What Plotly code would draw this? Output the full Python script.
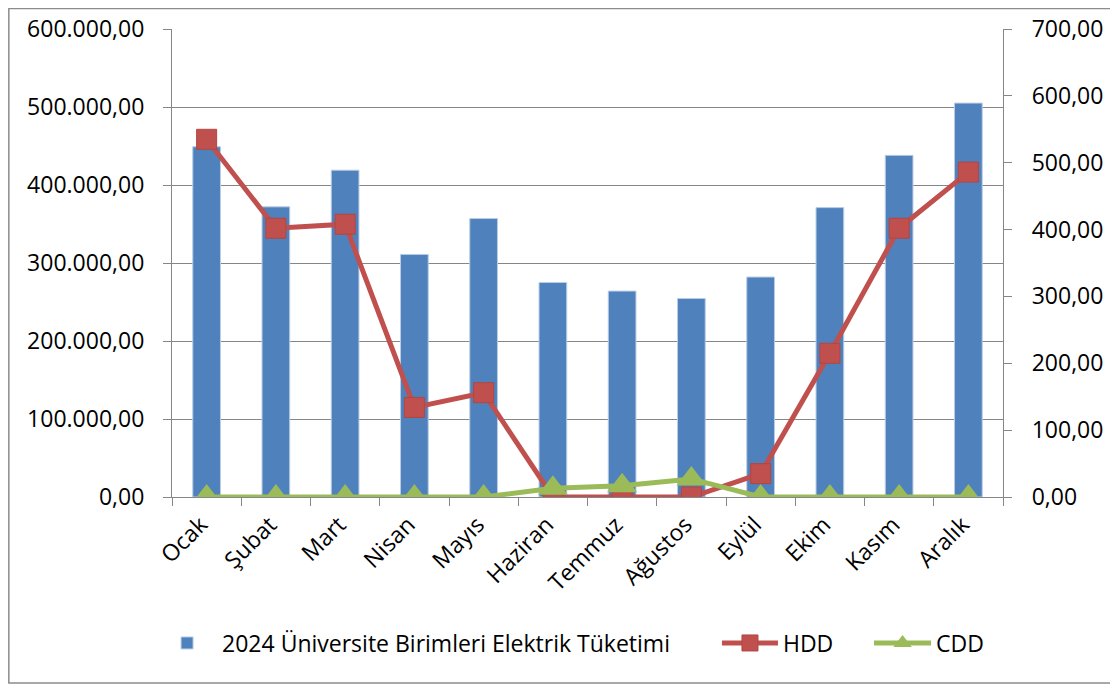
import plotly.graph_objects as go

months = ["Ocak", "Şubat", "Mart", "Nisan", "Mayıs", "Haziran", "Temmuz",
          "Ağustos", "Eylül", "Ekim", "Kasım", "Aralık"]
consumption = [449000, 372000, 419000, 311000, 357000, 275000, 264000,
               254500, 282000, 371000, 438000, 505000]
hdd = [535, 402, 408, 134, 156, 0, 0, 0, 35, 215, 402, 486]
cdd = [0, 0, 0, 0, 0, 13, 17, 27, 0, 0, 0, 0]

FONT = "Open Sans, Noto Sans, sans-serif"
GRID = "#868686"

fig = go.Figure()
fig.add_trace(go.Bar(
    x=months, y=consumption, name="2024 Üniversite Birimleri Elektrik Tüketimi",
    marker=dict(color="#4F81BD", line=dict(color="#B9CDE5", width=1)),
    yaxis="y", legend="legend",
))
fig.add_trace(go.Scatter(
    x=months, y=hdd, name="HDD", mode="lines+markers",
    line=dict(color="#C0504D", width=5),
    marker=dict(symbol="square", size=20, color="#C0504D",
                line=dict(color="#B34542", width=1)),
    yaxis="y2", legend="legend2",
))
fig.add_trace(go.Scatter(
    x=months, y=cdd, name="CDD", mode="lines+markers",
    line=dict(color="#9BBB59", width=5),
    marker=dict(symbol="triangle-up", size=26, color="#9BBB59"),
    yaxis="y2", legend="legend3",
))

LEG_Y = -0.312
fig.update_layout(
    width=1110, height=678,
    margin=dict(l=164, r=115, t=21, b=189),
    paper_bgcolor="white", plot_bgcolor="white",
    separators=",.",
    font=dict(family=FONT, size=23, color="black"),
    bargap=0.6,
    showlegend=True,
    legend=dict(x=-0.024, y=LEG_Y, xanchor="left", yanchor="middle",
                font=dict(size=23), itemwidth=60, bgcolor="rgba(0,0,0,0)"),
    legend2=dict(x=0.6558, y=LEG_Y, xanchor="left", yanchor="middle",
                 font=dict(size=23), itemwidth=56, bgcolor="rgba(0,0,0,0)"),
    legend3=dict(x=0.8388, y=LEG_Y, xanchor="left", yanchor="middle",
                 font=dict(size=23), itemwidth=57, bgcolor="rgba(0,0,0,0)"),
    xaxis=dict(
        range=[-0.5, 11.5], automargin=False,
        showline=True, linecolor=GRID, linewidth=1.2,
        ticks="outside", tickson="boundaries", ticklen=8, tickcolor=GRID,
        tickangle=-45, showgrid=False, tickfont=dict(size=23),
        ticklabelshift=-6, ticklabelstandoff=4,
    ),
    yaxis=dict(
        range=[0, 600000], dtick=100000, tickformat=",.2f", automargin=False,
        showgrid=True, gridcolor=GRID, gridwidth=1.2,
        showline=True, linecolor=GRID, linewidth=1.2,
        ticks="outside", ticklen=8, tickcolor=GRID,
        zeroline=False, ticklabelstandoff=14,
    ),
    yaxis2=dict(
        range=[0, 700], dtick=100, tickformat=".2f", automargin=False,
        overlaying="y", side="right", showgrid=False,
        showline=True, linecolor=GRID, linewidth=1.2,
        ticks="outside", ticklen=8, tickcolor=GRID,
        zeroline=False, ticklabelstandoff=15,
    ),
    shapes=[dict(type="rect", xref="paper", yref="paper",
                 x0=-164 / 831 + 0.001, x1=(1110 - 164) / 831 - 0.001,
                 y0=-186 / 468, y1=1 + 21 / 468 - 0.001,
                 line=dict(color="#8C8C8C", width=1.5), layer="below")],
)

fig.write_html("out.html")
